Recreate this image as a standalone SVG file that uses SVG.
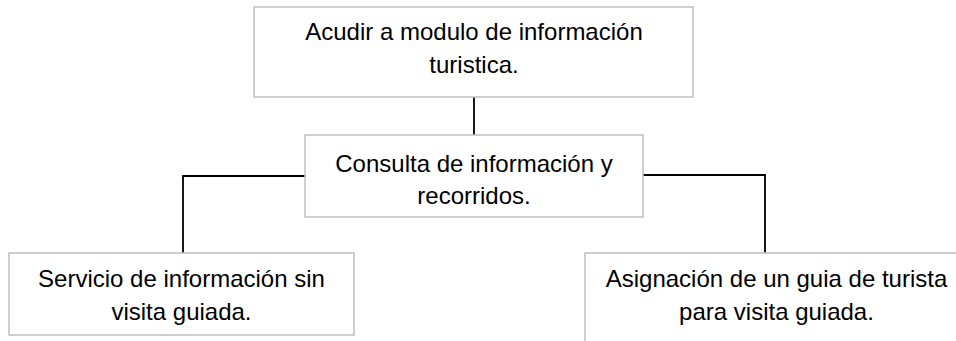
<svg xmlns="http://www.w3.org/2000/svg" width="956" height="341" viewBox="0 0 956 341">
<style>
.box{fill:#fff;stroke:#bfbfbf;stroke-width:1.5}
.lbl{font-family:"Liberation Sans",Arial,sans-serif;font-size:24px;fill:#000;text-anchor:middle}
.conn{fill:none;stroke:#000;stroke-width:1.8}
</style>
<rect width="956" height="341" fill="#fff"/>
<g id="connectors">
<line class="conn" x1="474" y1="97" x2="474" y2="135"/>
<polyline class="conn" points="305,176 183,176 183,254"/>
<polyline class="conn" points="643,175 765,175 765,253"/>
</g>
<g id="n1">
<rect class="box" x="254" y="7" width="439" height="90"/>
<text class="lbl" x="474" y="40">Acudir a modulo de información</text>
<text class="lbl" x="474" y="73">turistica.</text>
</g>
<g id="n2">
<rect class="box" x="305" y="135" width="338" height="82"/>
<text class="lbl" x="474" y="172">Consulta de información y</text>
<text class="lbl" x="474" y="204">recorridos.</text>
</g>
<g id="n3">
<rect class="box" x="9" y="253" width="345" height="82"/>
<text class="lbl" x="181.5" y="287">Servicio de información sin</text>
<text class="lbl" x="181.5" y="320">visita guiada.</text>
</g>
<g id="n4">
<rect class="box" x="585" y="253" width="385" height="100"/>
<text class="lbl" x="776.5" y="287">Asignación de un guia de turista</text>
<text class="lbl" x="776.5" y="320">para visita guiada.</text>
</g>
</svg>
